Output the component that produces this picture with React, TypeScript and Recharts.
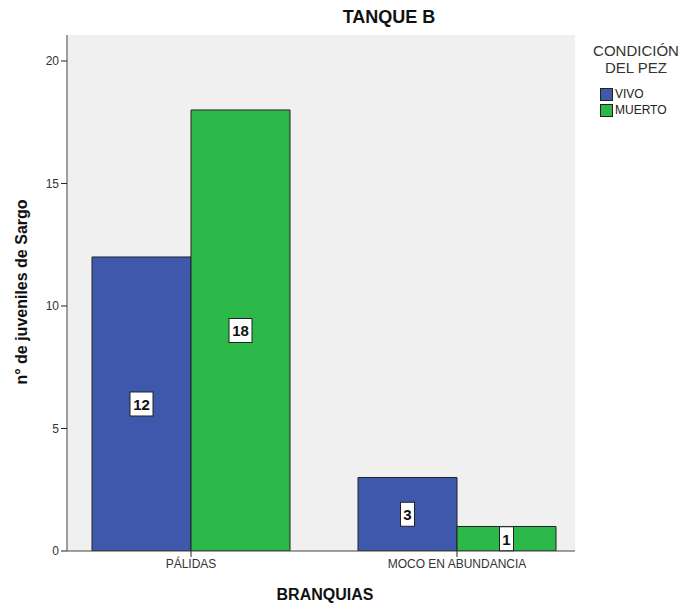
import { BarChart, Bar, XAxis, YAxis, CartesianGrid, LabelList } from 'recharts'

const categories = ['PÁLIDAS', 'MOCO EN ABUNDANCIA']
const vivo = [12, 3]
const muerto = [18, 1]
const yTicks = [0, 5, 10, 15, 20]

const data = categories.map((c, i) => ({ cat: c, vivo: vivo[i], muerto: muerto[i] }))

const FONT = '"Liberation Sans", Arial, sans-serif'

const BoxLabel = (props: any) => {
  const { x, y, width, height, value } = props
  const cx = x + width / 2
  const cy = y + height / 2
  const w = String(value).length * 9 + 5
  return (
    <g>
      <rect x={cx - w / 2} y={cy - 12} width={w} height={24} fill="#fff" stroke="#222" strokeWidth={1} />
      <text x={cx} y={cy + 6} textAnchor="middle" fontSize={15} fontWeight="bold" fontFamily={FONT} fill="#111">
        {value}
      </text>
    </g>
  )
}

export default function App() {
  return (
    <div style={{ position: 'absolute', left: 0, top: 0, width: 683, height: 609, background: '#fff', fontFamily: FONT }}>
      <BarChart
        width={683}
        height={609}
        data={data}
        margin={{ top: 35, right: 108, bottom: 0, left: 0 }}
        barGap={0}
        barSize={99}
      >
        <CartesianGrid horizontal={false} vertical={false} fill="#f0f0f0" />
        <XAxis
          dataKey="cat"
          height={58}
          padding={{ left: -9, right: -15 }}
          axisLine={{ stroke: '#444' }}
          tickLine={{ stroke: '#222' }}
          tickSize={6}
          tick={{ fontSize: 12, fill: '#333', fontFamily: FONT }}
        />
        <XAxis xAxisId="top" orientation="top" dataKey="cat" height={0} tick={false} tickLine={false} axisLine={{ stroke: '#444' }} />
        <YAxis
          width={67}
          domain={[0, 21.06]}
          ticks={yTicks}
          allowDataOverflow
          axisLine={{ stroke: '#444' }}
          tickLine={{ stroke: '#222' }}
          tickSize={6}
          tick={{ fontSize: 12, fill: '#333', fontFamily: FONT }}
        />
        <YAxis yAxisId="right" orientation="right" width={0} tick={false} tickLine={false} axisLine={{ stroke: '#444' }} />
        <Bar dataKey="vivo" fill="#3e58ac" stroke="#222" strokeWidth={1} isAnimationActive={false}>
          <LabelList dataKey="vivo" content={BoxLabel} />
        </Bar>
        <Bar dataKey="muerto" fill="#2db84a" stroke="#222" strokeWidth={1} isAnimationActive={false}>
          <LabelList dataKey="muerto" content={BoxLabel} />
        </Bar>
      </BarChart>

      <div style={{ position: 'absolute', left: 289, width: 200, top: 7, textAlign: 'center', fontSize: 18, fontWeight: 'bold', color: '#111' }}>
        TANQUE B
      </div>
      <div style={{ position: 'absolute', left: 225, width: 200, top: 586, textAlign: 'center', fontSize: 16, fontWeight: 'bold', color: '#111' }}>
        BRANQUIAS
      </div>
      <div
        style={{
          position: 'absolute',
          left: 22 - 150,
          width: 300,
          top: 292 - 10,
          textAlign: 'center',
          fontSize: 16,
          fontWeight: 'bold',
          color: '#111',
          transform: 'rotate(-90deg)',
          lineHeight: '20px',
        }}
      >
        n° de juveniles de Sargo
      </div>

      <div style={{ position: 'absolute', left: 588, width: 96, top: 42, textAlign: 'center', fontSize: 15, color: '#333', lineHeight: '17px' }}>
        CONDICIÓN
        <br />
        DEL PEZ
      </div>
      {[
        { name: 'VIVO', color: '#3e58ac' },
        { name: 'MUERTO', color: '#2db84a' },
      ].map((it, i) => (
        <div key={it.name} style={{ position: 'absolute', left: 600, top: 87 + i * 16, display: 'flex', alignItems: 'center', fontSize: 12, color: '#222' }}>
          <div style={{ width: 11, height: 11, background: it.color, border: '1px solid #222', marginRight: 2 }} />
          {it.name}
        </div>
      ))}
    </div>
  )
}
